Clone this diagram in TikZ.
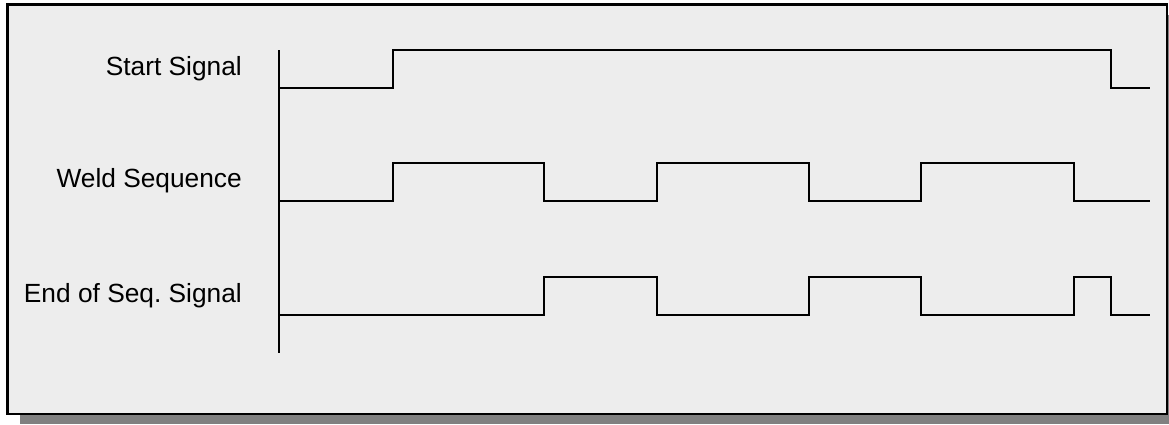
\documentclass[tikz,border=0pt]{standalone}
\usepackage{fontspec}
\setmainfont{Liberation Sans}
\frenchspacing
\definecolor{panel}{HTML}{EDEDED}
\definecolor{shadow}{HTML}{808080}
\tikzset{
  sig/.style={line width=2pt, line join=miter},
  lbl/.style={anchor=base east, inner sep=0pt, font=\fontsize{26.3}{30}\selectfont},
}
\begin{document}
\begin{tikzpicture}[x=1pt,y=-1pt]
\useasboundingbox (0,0) rectangle (1169,424);
\fill[white] (0,0) rectangle (1169,424);
\fill[shadow] (20,15) rectangle (1169,424);
\draw[fill=panel, line width=2.5pt] (7.5,4.5) rectangle (1167,414);
% axis
\draw[line width=2pt] (279,50) -- (279,353);
% labels
\node[lbl] (l1) at (242,75) {Start Signal};
\node[lbl] (l2) at (242,187) {Weld Sequence};
\node[lbl] (l3) at (242,302) {End of Seq. Signal};
% Start signal
\draw[sig] (279,88) -- (393,88) -- (393,50) -- (1111,50) -- (1111,88) -- (1150,88);
% Weld sequence
\draw[sig] (279,201) -- (393,201) -- (393,163) -- (544,163) -- (544,201) -- (657,201) -- (657,163) -- (809,163) -- (809,201) -- (921,201) -- (921,163) -- (1074,163) -- (1074,201) -- (1150,201);
% End of sequence signal
\draw[sig] (279,315) -- (544,315) -- (544,277) -- (657,277) -- (657,315) -- (809,315) -- (809,277) -- (921,277) -- (921,315) -- (1074,315) -- (1074,277) -- (1111,277) -- (1111,315) -- (1150,315);
\end{tikzpicture}
\end{document}
